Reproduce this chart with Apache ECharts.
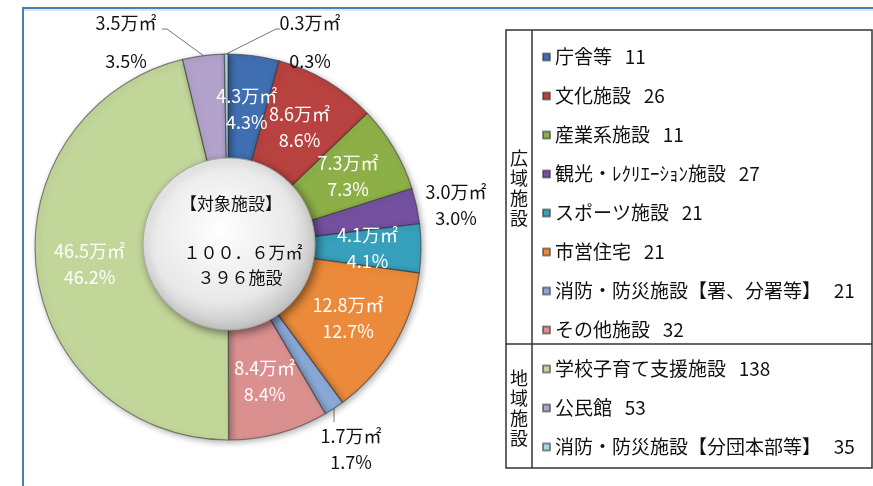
<!DOCTYPE html>
<html>
<head>
<meta charset="utf-8">
<script src="https://cdn.jsdelivr.net/npm/echarts@6/dist/echarts.min.js"></script>
<style>
  html, body { margin: 0; padding: 0; background: #fff; }
  #chart { width: 873px; height: 486px; }
</style>
</head>
<body>
<div id="chart"></div>
<script>
// 施設分類（凡例順）
let names = [
  "庁舎等", "文化施設", "産業系施設", "観光・ﾚｸﾘｴｰｼｮﾝ施設", "スポーツ施設",
  "市営住宅", "消防・防災施設【署、分署等】", "その他施設",
  "学校子育て支援施設", "公民館", "消防・防災施設【分団本部等】"
];
// 施設数
let counts = [11, 26, 11, 27, 21, 21, 21, 32, 138, 53, 35];
// 延床面積（万㎡）
let areas = [4.3, 8.6, 7.3, 3.0, 4.1, 12.8, 1.7, 8.4, 46.5, 3.5, 0.3];
// 構成比（%）
let shares = [4.3, 8.6, 7.3, 3.0, 4.1, 12.7, 1.7, 8.4, 46.2, 3.5, 0.3];

let colors = [
  "#3F6FB0", "#B8423F", "#8DAF47", "#7451A0", "#37A0BC", "#EA8A3A",
  "#8AA8D6", "#D9908F", "#C2D69A", "#B3A2CB", "#A9D8E4"
];

// 外側に出すラベルの位置（スタイル）
let outsideLabels = {
  3: { x: 456, y: 205, line: null },
  6: { x: 351, y: 449, line: [[334, 422]] },
  9: { x: 126, y: 42, line: [[167, 29], [162, 29]] },
  10: { x: 310, y: 42, line: [[276, 29], [280, 29]] }
};

let font = "'Noto Sans CJK JP', 'Noto Sans', sans-serif";

let pieData = names.map(function (n, i) {
  let item = { name: n, value: areas[i], itemStyle: { color: colors[i] } };
  if (outsideLabels[i]) {
    item.label = {
      position: "outside",
      color: "#111",
      lineHeight: (i === 9 || i === 10) ? 38 : 26
    };
    item.labelLine = {
      show: outsideLabels[i].line !== null,
      length: 8,
      length2: 4,
      lineStyle: { color: "#777", width: 1 }
    };
  }
  return item;
});

let chart = echarts.init(document.getElementById("chart"));

let option = {
  backgroundColor: "#fff",
  animation: false,
  textStyle: { fontFamily: font },
  color: colors,
  legend: {
    orient: "vertical",
    left: 537,
    top: 42,
    itemWidth: 7,
    itemHeight: 7,
    itemGap: 19,
    icon: "rect",
    data: names,
    formatter: function (name) {
      return name + "   " + counts[names.indexOf(name)];
    },
    textStyle: { fontSize: 19, lineHeight: 20, color: "#111", fontFamily: font }
  },
  series: [
    {
      type: "pie",
      center: [228, 247],
      radius: [80, 193],
      startAngle: 90,
      clockwise: true,
      avoidLabelOverlap: false,
      data: pieData,
      itemStyle: {
        borderColor: "rgba(50,50,50,0.55)",
        borderWidth: 1.2,
        shadowBlur: 6,
        shadowColor: "rgba(0,0,0,0.3)",
        shadowOffsetX: 2,
        shadowOffsetY: 2
      },
      label: {
        position: "inside",
        color: "#fff",
        fontSize: 18,
        lineHeight: 26,
        fontFamily: font,
        formatter: function (p) {
          return areas[p.dataIndex].toFixed(1) + "万㎡\n" + shares[p.dataIndex].toFixed(1) + "%";
        }
      },
      labelLine: { show: false },
      labelLayout: function (p) {
        let o = outsideLabels[p.dataIndex];
        if (!o) return {};
        let res = { x: o.x, y: o.y, align: "center", verticalAlign: "middle" };
        if (o.line && p.labelLinePoints) {
          res.labelLinePoints = [p.labelLinePoints[0]].concat(o.line);
        }
        return res;
      }
    }
  ],
  graphic: [
    // frame
    { type: "line", shape: { x1: 22, y1: 8, x2: 873, y2: 8 }, style: { stroke: "#4A7EBB", lineWidth: 2 } },
    { type: "line", shape: { x1: 22, y1: 10, x2: 873, y2: 10 }, style: { stroke: "#C8C8C8", lineWidth: 1 } },
    { type: "line", shape: { x1: 23, y1: 8, x2: 23, y2: 486 }, style: { stroke: "#4A7EBB", lineWidth: 2 } },
    // legend box
    { type: "rect", shape: { x: 506, y: 30, width: 366, height: 438 }, style: { fill: "none", stroke: "#333", lineWidth: 1.5 } },
    { type: "line", shape: { x1: 532, y1: 30, x2: 532, y2: 468 }, style: { stroke: "#333", lineWidth: 1.5 } },
    { type: "line", shape: { x1: 506, y1: 344, x2: 872, y2: 344 }, style: { stroke: "#333", lineWidth: 1.5 } },
    {
      type: "text", x: 519, y: 188,
      style: { text: "広\n域\n施\n設", fontSize: 18, lineHeight: 20, fill: "#111", fontFamily: font, align: "center", verticalAlign: "middle" }
    },
    {
      type: "text", x: 519, y: 408,
      style: { text: "地\n域\n施\n設", fontSize: 18, lineHeight: 20, fill: "#111", fontFamily: font, align: "center", verticalAlign: "middle" }
    },
    // centre disc
    {
      type: "circle", z: 100,
      shape: { cx: 229, cy: 244, r: 86 },
      style: {
        fill: new echarts.graphic.RadialGradient(0.45, 0.42, 0.6, [
          { offset: 0, color: "#FFFFFF" },
          { offset: 0.7, color: "#E8E8E8" },
          { offset: 1, color: "#BEBEBE" }
        ]),
        stroke: "#A8A8A8",
        lineWidth: 1,
        shadowBlur: 8,
        shadowColor: "rgba(0,0,0,0.45)",
        shadowOffsetX: 3,
        shadowOffsetY: 3
      }
    },
    {
      type: "text", z: 101, x: 231, y: 204,
      style: { text: "【対象施設】", fontSize: 17, fill: "#111", fontFamily: font, align: "center", verticalAlign: "middle" }
    },
    {
      type: "text", z: 101, x: 243, y: 253,
      style: { text: "１００．６万㎡", fontSize: 17, fill: "#111", fontFamily: font, align: "center", verticalAlign: "middle" }
    },
    {
      type: "text", z: 101, x: 240, y: 278,
      style: { text: "３９６施設", fontSize: 17, fill: "#111", fontFamily: font, align: "center", verticalAlign: "middle" }
    }
  ]
};

chart.setOption(option);
</script>
</body>
</html>
